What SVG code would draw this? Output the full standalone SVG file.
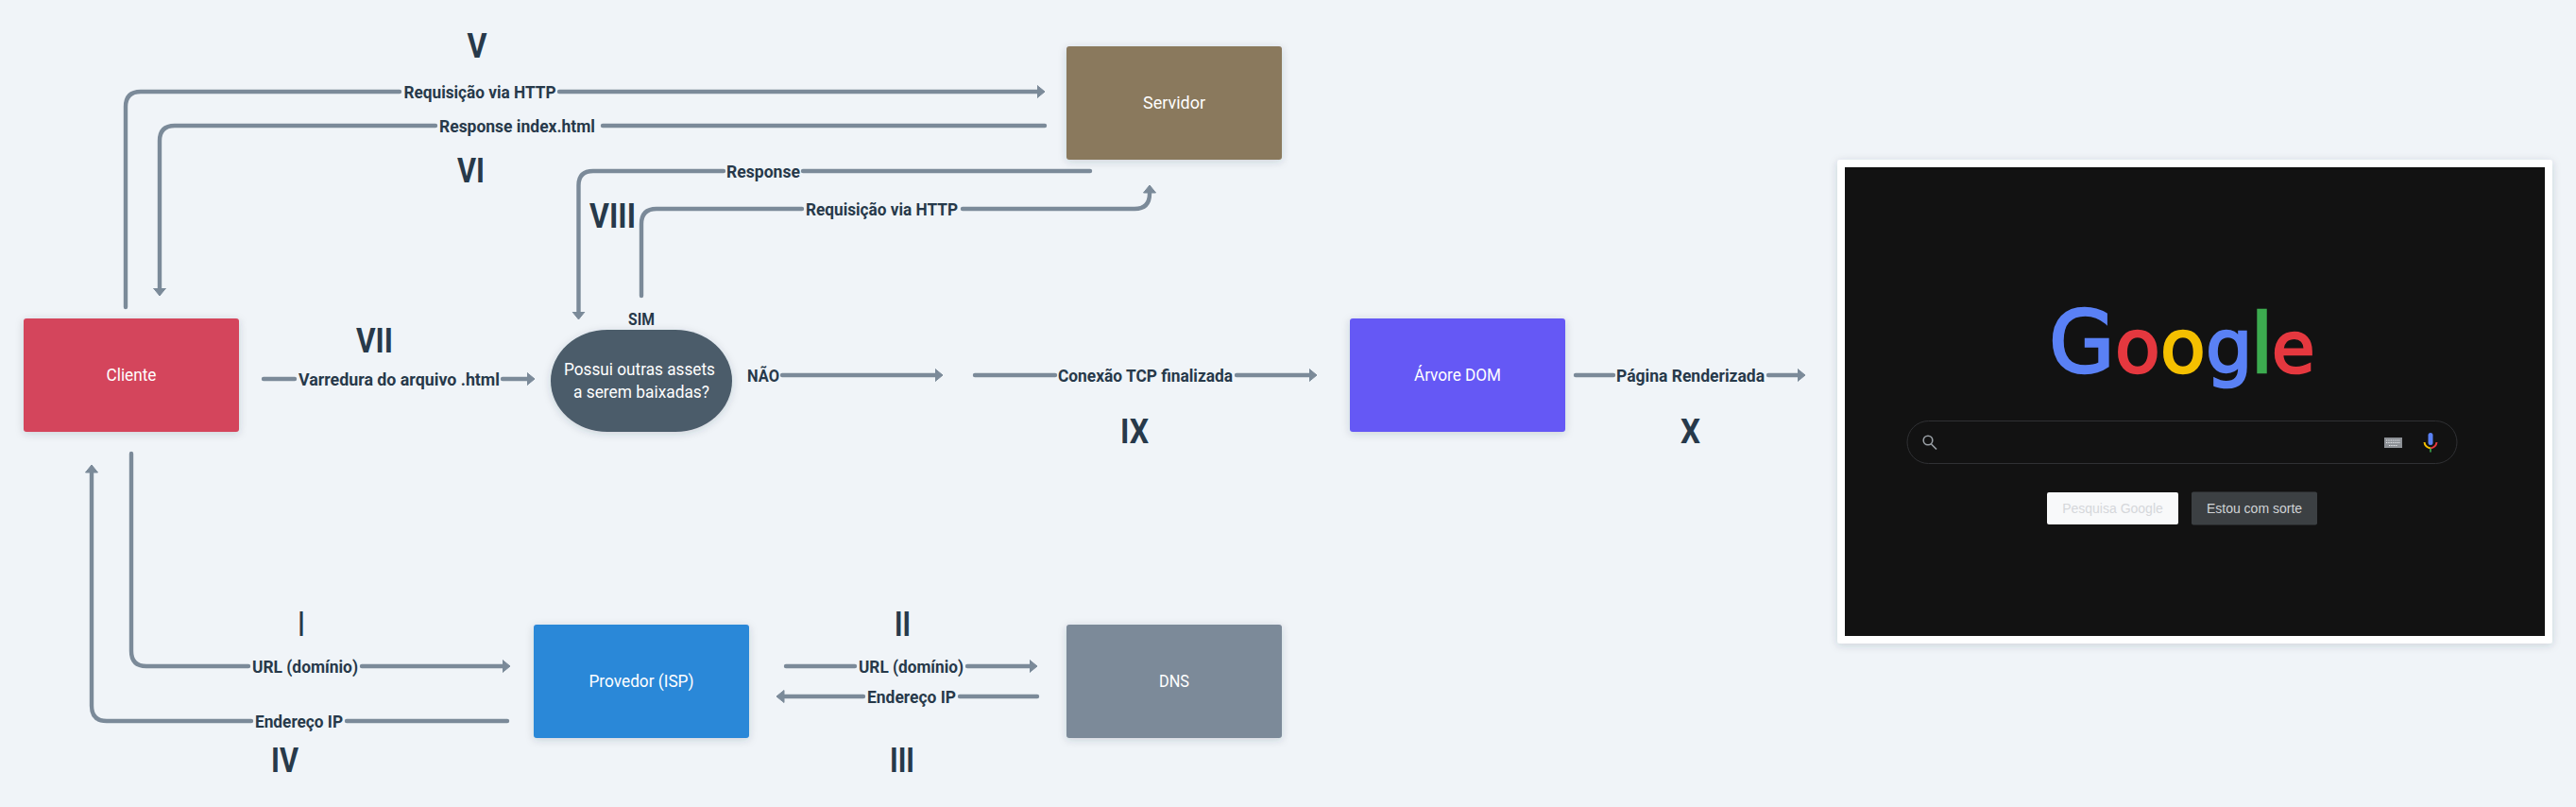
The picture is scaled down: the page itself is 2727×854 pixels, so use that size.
<svg xmlns="http://www.w3.org/2000/svg" width="2727" height="854" viewBox="0 0 2727 854">
<style>
text{font-family:Roboto,"Liberation Sans",sans-serif}
.c{fill:none;stroke:#7b8a99;stroke-width:4.400;stroke-linecap:round;stroke-linejoin:round}
.a{marker-end:url(#ah)}
.l{font-size:18px;font-weight:700;fill:#27394a;text-anchor:middle}
.n{font-size:18px;fill:#fff;text-anchor:middle}
.r{font-size:36px;font-weight:700;fill:#27394a;text-anchor:middle}
.s{filter:url(#sh)}
.g{font-family:"DejaVu Sans",sans-serif;font-size:78px;stroke-width:2.500}
</style>
<defs>
<marker id="ah" markerUnits="userSpaceOnUse" markerWidth="10" markerHeight="16" refX="0.5" refY="8" orient="auto" viewBox="0 0 10 16">
<path d="M0.5,1.5L8.5,8L0.5,14.5Z" fill="#7b8a99" stroke="#7b8a99" stroke-linejoin="round"/>
</marker>
<filter id="sh" x="-10%" y="-10%" width="120%" height="125%"><feDropShadow dx="0" dy="2" stdDeviation="4" flood-color="#27394a" flood-opacity=".18"/></filter>
</defs>
<rect width="2727" height="854" fill="#f0f4f8"/>

<g id="connectors">
<g id="c-v"><path class="c" d="M133,325V113Q133,97 149,97H423"/><path class="c a" d="M592,97H1098"/><text class="l" x="508" y="103.500" textLength="161" lengthAdjust="spacingAndGlyphs">Requisição via HTTP</text></g>
<g id="c-vi"><path class="c" d="M1106,133H638"/><path class="c a" d="M461,133H185Q169,133 169,149V305"/><text class="l" x="547.500" y="139.500" textLength="165" lengthAdjust="spacingAndGlyphs">Response index.html</text></g>
<g id="c-resp"><path class="c" d="M1154,181H850"/><path class="c a" d="M766,181H628Q612.500,181 612.500,196V330"/><text class="l" x="808" y="187.500" textLength="78" lengthAdjust="spacingAndGlyphs">Response</text></g>
<g id="c-req"><path class="c" d="M679,313V237Q679,221 695,221H849"/><path class="c a" d="M1019,221H1201Q1217,221 1217,205V204"/><text class="l" x="933.500" y="227.500" textLength="161" lengthAdjust="spacingAndGlyphs">Requisição via HTTP</text></g>
<g id="c-varr"><path class="c" d="M279,401H312"/><path class="c a" d="M532,401H558"/><text class="l" x="422.500" y="407.500" textLength="213" lengthAdjust="spacingAndGlyphs">Varredura do arquivo .html</text></g>
<g id="c-nao"><path class="c a" d="M828,397H990"/><text class="l" x="808" y="403.500" textLength="34" lengthAdjust="spacingAndGlyphs">NÃO</text></g>
<g id="c-sim"><text class="l" x="679" y="343.500" textLength="28" lengthAdjust="spacingAndGlyphs">SIM</text></g>
<g id="c-tcp"><path class="c" d="M1032,397H1117"/><path class="c a" d="M1309,397H1386"/><text class="l" x="1212.500" y="403.500" textLength="185" lengthAdjust="spacingAndGlyphs">Conexão TCP finalizada</text></g>
<g id="c-pag"><path class="c" d="M1668,397H1708"/><path class="c a" d="M1872,397H1903"/><text class="l" x="1789.500" y="403.500" textLength="157" lengthAdjust="spacingAndGlyphs">Página Renderizada</text></g>
<g id="c-i"><path class="c" d="M139,480V689Q139,705 155,705H263"/><path class="c a" d="M383,705H532"/><text class="l" x="323" y="711.500" textLength="112" lengthAdjust="spacingAndGlyphs">URL (domínio)</text></g>
<g id="c-iv"><path class="c" d="M537,763H367"/><path class="c a" d="M266,763H113Q97,763 97,747V500"/><text class="l" x="316.500" y="769.500" textLength="93" lengthAdjust="spacingAndGlyphs">Endereço IP</text></g>
<g id="c-ii"><path class="c" d="M832,705H905"/><path class="c a" d="M1024,705H1090"/><text class="l" x="964.500" y="711.500" textLength="111" lengthAdjust="spacingAndGlyphs">URL (domínio)</text></g>
<g id="c-iii"><path class="c" d="M1098,737H1016"/><path class="c a" d="M914,737H830"/><text class="l" x="965" y="743.500" textLength="94" lengthAdjust="spacingAndGlyphs">Endereço IP</text></g>
</g>

<g id="steps">
<text class="r" x="505" y="61" textLength="21" lengthAdjust="spacingAndGlyphs">V</text>
<text class="r" x="498.500" y="193" textLength="29" lengthAdjust="spacingAndGlyphs">VI</text>
<text class="r" x="648.500" y="241" textLength="49" lengthAdjust="spacingAndGlyphs">VIII</text>
<text class="r" x="396.500" y="373" textLength="39" lengthAdjust="spacingAndGlyphs">VII</text>
<text class="r" x="1201" y="469" textLength="30" lengthAdjust="spacingAndGlyphs">IX</text>
<text class="r" x="1789.500" y="469" textLength="21" lengthAdjust="spacingAndGlyphs">X</text>
<text class="r" x="319" y="673" textLength="6" lengthAdjust="spacingAndGlyphs">I</text>
<text class="r" x="301.500" y="817" textLength="29" lengthAdjust="spacingAndGlyphs">IV</text>
<text class="r" x="955.500" y="673" textLength="17" lengthAdjust="spacingAndGlyphs">II</text>
<text class="r" x="955" y="817" textLength="26" lengthAdjust="spacingAndGlyphs">III</text>
</g>

<g id="cliente"><rect class="s" x="25" y="337" width="228" height="120" rx="3" fill="#d4455b"/><text class="n" x="139" y="403" textLength="53" lengthAdjust="spacingAndGlyphs">Cliente</text></g>
<g id="servidor"><rect class="s" x="1129" y="49" width="228" height="120" rx="3" fill="#8a795d"/><text class="n" x="1243" y="115" textLength="66" lengthAdjust="spacingAndGlyphs">Servidor</text></g>
<g id="provedor"><rect class="s" x="565" y="661" width="228" height="120" rx="3" fill="#2b88d8"/><text class="n" x="679" y="727" textLength="111" lengthAdjust="spacingAndGlyphs">Provedor (ISP)</text></g>
<g id="dns"><rect class="s" x="1129" y="661" width="228" height="120" rx="3" fill="#7b8a99"/><text class="n" x="1243" y="727" textLength="32" lengthAdjust="spacingAndGlyphs">DNS</text></g>
<g id="arvore"><rect class="s" x="1429" y="337" width="228" height="120" rx="3" fill="#6558f5"/><text class="n" x="1543" y="403" textLength="92" lengthAdjust="spacingAndGlyphs">Árvore DOM</text></g>
<g id="decisao"><rect class="s" x="583" y="349" width="192" height="108" rx="60" ry="54" fill="#4b5c6b"/><text class="n" x="677" y="397" textLength="160" lengthAdjust="spacingAndGlyphs">Possui outras assets</text><text class="n" x="679" y="421" textLength="144" lengthAdjust="spacingAndGlyphs">a serem baixadas?</text></g>

<g id="pagina">
<rect class="s" x="1945" y="169" width="757" height="512" rx="3" fill="#fff"/>
<rect x="1953" y="177" width="741" height="496" fill="#121212"/>
<text class="g" y="394"><tspan font-size="90" fill="#5a81f5" stroke="#5a81f5" x="2169">G</tspan><tspan fill="#e5383f" stroke="#e5383f" x="2239">o</tspan><tspan fill="#f5c000" stroke="#f5c000" x="2287">o</tspan><tspan fill="#5a81f5" stroke="#5a81f5" x="2335">g</tspan><tspan font-size="90" fill="#3cab4f" stroke="#3cab4f" x="2384.500" style="font-family:'Liberation Sans',sans-serif">l</tspan><tspan font-size="74" fill="#e5383f" stroke="#e5383f" x="2405">e</tspan></text>
<rect x="2019" y="445.500" width="582" height="45" rx="22.500" fill="#121212" stroke="#303134"/>
<g fill="none" stroke="#9aa0a6" stroke-width="1.600"><circle cx="2041" cy="466" r="4.800"/><path d="M2044.500,470L2050,475.500"/></g>
<rect x="2524" y="463" width="19" height="11" fill="#8d9196"/>
<path d="M2526,466H2541M2526,468.500H2541M2529,471.500H2538" stroke="#e8eaed" stroke-width="1.200" stroke-dasharray="1 .7" fill="none"/>
<rect x="2570.500" y="458" width="5" height="13" rx="2.500" fill="#5a81f5"/>
<path d="M2566.500,468Q2567,473 2573,474.500" fill="none" stroke="#f5c000" stroke-width="2"/>
<path d="M2573,474.500Q2579,473 2579.500,468" fill="none" stroke="#e5383f" stroke-width="2"/>
<rect x="2572.200" y="474.500" width="1.600" height="4" fill="#3cab4f"/>
<rect x="2167" y="521" width="139" height="34" rx="2" fill="#f8f9fa"/>
<text x="2236.500" y="543" font-size="14" text-anchor="middle" fill="#d5d7da" style="font-family:'Liberation Sans',sans-serif">Pesquisa Google</text>
<rect x="2320" y="520.500" width="133" height="35" rx="2" fill="#3c4043"/>
<text x="2386.500" y="543" font-size="14" text-anchor="middle" fill="#d0d3d6" style="font-family:'Liberation Sans',sans-serif">Estou com sorte</text>
</g>
</svg>
